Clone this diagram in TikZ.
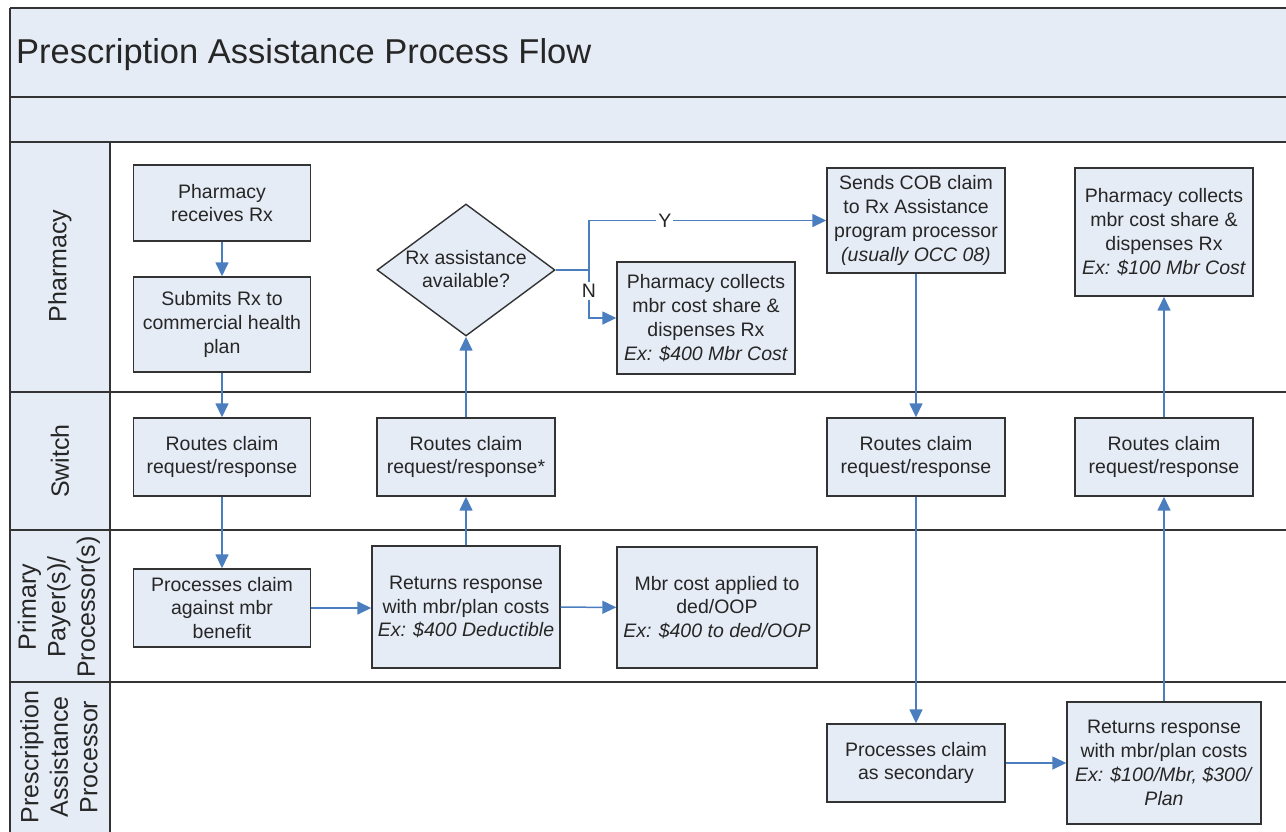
\documentclass[tikz,border=0pt]{standalone}
\usepackage{fontspec}
\setmainfont{Liberation Sans}
\usetikzlibrary{shapes.geometric,arrows.meta}
\definecolor{fillb}{HTML}{E6ECF6}
\definecolor{lineb}{HTML}{4A7EBF}
\definecolor{txt}{HTML}{262626}
\definecolor{frame}{HTML}{333333}
\begin{document}
\begin{tikzpicture}[x=1pt,y=-1pt,
  box/.style={draw=frame, line width=1.4pt, fill=fillb, text=txt, align=center, inner sep=0pt,
    font=\fontsize{19.5}{23.8}\selectfont},
  plain/.style={text=txt, align=center, inner sep=0pt, font=\fontsize{19.5}{23.8}\selectfont},
  flow/.style={draw=lineb, line width=1.5pt, -{Triangle[length=14pt,width=13pt]}},
  wire/.style={draw=lineb, line width=1.5pt},
  lane/.style={text=txt, align=center, rotate=90, inner sep=0pt, font=\fontsize{25}{29.5}\selectfont},
  sep/.style={draw=frame, line width=2pt}]
\useasboundingbox (0,0) rectangle (1286,831);
% background bands
\fill[fillb] (10,8) rectangle (1290,142);
\fill[fillb] (10,142) rectangle (110,840);
\draw[frame, line width=2.6pt] (10,8) -- (1290,8);
\draw[sep] (10,97) -- (1290,97);
\draw[sep] (10,142) -- (1290,142);
\draw[sep] (10,392) -- (1290,392);
\draw[sep] (10,530) -- (1290,530);
\draw[sep] (10,682) -- (1290,682);
\draw[frame, line width=1.6pt] (10,8) -- (10,840);
\draw[frame, line width=1.5pt] (110,142) -- (110,840);
\node[anchor=base west, text=txt, inner sep=0pt, font=\fontsize{34.5}{40}\selectfont] (title) at (16,63) {Prescription Assistance Process Flow};
% lane labels
\node[lane] (lph) at (60,266) {Pharmacy};
\node[lane] (lsw) at (60,461) {Switch};
\node[lane] (lpp) at (59,607) {Primary\\Payer(s)/\\Processor(s)};
\node[lane] (lpa) at (59,757) {Prescription\\Assistance\\Processor};
% nodes
\node[box, minimum width=177pt, minimum height=76pt] (rec) at (222,203) {Pharmacy\\receives Rx};
\node[box, minimum width=177pt, minimum height=95pt] (sub) at (222,324.5) {Submits Rx to\\commercial health\\plan};
\node[box, minimum width=177pt, minimum height=78pt] (sw1) at (222,457) {Routes claim\\request/response};
\node[box, minimum width=177pt, minimum height=78pt] (proc) at (222,608) {Processes claim\\against mbr\\benefit};
\node[box, minimum width=188pt, minimum height=122pt] (ret) at (466,607) {Returns response\\with mbr/plan costs\\\textit{Ex: \$400 Deductible}};
\node[box, minimum width=200pt, minimum height=121pt] (mbr) at (717,607.5) {Mbr cost applied to\\ded/OOP\\\textit{Ex: \$400 to ded/OOP}};
\node[box, minimum width=178pt, minimum height=78pt] (sw2) at (466,457) {Routes claim\\request/response*};
\node[diamond, draw=frame, line width=1.4pt, fill=fillb, inner sep=0pt, minimum width=178pt, minimum height=132pt] (dec) at (466,270) {};
\node[plain] (dect) at (466,269) {Rx assistance\\available?};
\node[box, minimum width=178pt, minimum height=112pt] (ph1) at (706,318) {Pharmacy collects\\mbr cost share \&\\dispenses Rx\\\textit{Ex: \$400 Mbr Cost}};
\node[box, minimum width=178pt, minimum height=105pt] (cob) at (916,220.5) {Sends COB claim\\to Rx Assistance\\program processor\\\textit{(usually OCC 08)}};
\node[box, minimum width=178pt, minimum height=78pt] (sw3) at (916,457) {Routes claim\\request/response};
\node[box, minimum width=178pt, minimum height=78pt] (sec) at (916,763) {Processes claim\\as secondary};
\node[box, minimum width=194pt, minimum height=122pt] (ret2) at (1164,763) {Returns response\\with mbr/plan costs\\\textit{Ex: \$100/Mbr, \$300/}\\\textit{Plan}};
\node[box, minimum width=178pt, minimum height=78pt] (sw4) at (1164,457) {Routes claim\\request/response};
\node[box, minimum width=178pt, minimum height=128pt] (ph2) at (1164,232) {Pharmacy collects\\mbr cost share \&\\dispenses Rx\\\textit{Ex: \$100 Mbr Cost}};
% connectors
\draw[flow] (rec) -- (sub);
\draw[flow] (sub) -- (sw1);
\draw[flow] (sw1) -- (proc);
\draw[flow] (proc.east) -- (proc.east -| ret.west);
\draw[flow] (ret) -- (mbr);
\draw[flow] (ret) -- (sw2);
\draw[flow] (sw2) -- (dec);
\coordinate (j) at (589,270);
\draw[wire] (dec.east) -- (j);
\draw[flow] (j) |- node[pos=0.66, fill=white, text=txt, inner sep=2pt, font=\fontsize{19.5}{22}\selectfont] (ylab) {Y} (cob.west);
\draw[flow] (j) |- node[pos=0.22, fill=white, text=txt, inner sep=2pt, font=\fontsize{19.5}{22}\selectfont] (nlab) {N} (ph1.west);
\draw[flow] (cob) -- (sw3);
\draw[flow] (sw3) -- (sec);
\draw[flow] (sec) -- (ret2);
\draw[flow] (ret2) -- (sw4);
\draw[flow] (sw4) -- (ph2);
\end{tikzpicture}
\end{document}
